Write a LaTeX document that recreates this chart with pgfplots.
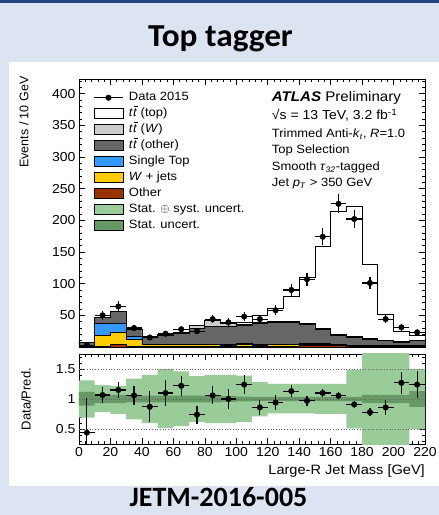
\documentclass[border=0pt]{standalone}
\usepackage{pgfplots}
\pgfplotsset{compat=1.18}
\usepackage{pgfplotstable}
\usepackage{fontspec}
\setmainfont{Liberation Sans}[FakeStretch=1.08]
\newfontfamily\plainsans{Liberation Sans}
\newfontfamily\slidefont{Carlito}
\newfontfamily\titlefont{Carlito}[FakeStretch=1.04]

\definecolor{slidebg}{RGB}{220,228,241}
\definecolor{slidebar}{RGB}{35,72,125}
\definecolor{ttWcol}{RGB}{204,204,204}
\definecolor{ttothercol}{RGB}{102,102,102}
\definecolor{stopcol}{RGB}{51,153,255}
\definecolor{wjetscol}{RGB}{255,204,0}
\definecolor{othercol}{RGB}{153,51,0}
\definecolor{systband}{RGB}{153,204,153}
\definecolor{statband}{RGB}{102,153,102}

\newcommand\ttbar{\textit{t}\makebox[0pt][l]{\hspace{0.1em}\rule[0.8em]{0.3em}{0.06em}}\textit{t}}

% predicted yields per 10 GeV bin (left edges; last row closes the final bin)
\pgfplotstableread{
x   other wjets stop ttother ttW  tttop
0   0.3   0.5   0.3  5.7     0    0
10  0.3   17.5  20   9.2     0    0
20  3.5   19    15.5 18      0    0
30  1     11    5    11      0    0
40  1     2.5   1    12.5    0    0
50  1     2.5   1    14.5    0.5  0
60  1     2.5   1    17.5    0.5  0
70  1     2.5   1    25.5    4    0
80  1     2.5   1    27.5    10   0
90  1     2     1.5  28.5    5    1
100 1     2.5   1.5  29.5    1.5  2.5
110 1     2     1    34      1.5  11
120 1.5   2     1    34.5    2    20.5
130 1.5   2     1    34      2.5  39
140 2.5   1.5   1    30      3    72
150 3     1     1    23      2    129
160 3     1     0.5  14      1.5  194
170 1.5   1     0.5  12      1    206
180 1     1     0.5  10      0.5  117
190 0.5   1     0.3  8.2     0.5  41
200 0.5   1     0.3  6.2     0.3  16.7
210 0.5   1     0.3  8.2     0.3  8.2
220 0.5   1     0.3  8.2     0.3  8.2
}\stacktab

% observed events (bin centres)
\pgfplotstableread{
x   n    e
5   3    1.7
15  50   7.1
25  64   8
35  30   5.5
45  15   3.9
55  21   4.6
65  28   5.3
75  25   5
85  44   6.6
95  39   6.2
105 48   6.9
115 44   6.6
125 58   7.6
135 90   9.5
145 107  10.3
155 174  13.2
165 226  15
175 202  14.2
185 101  10
195 44   6.6
205 31   5.6
215 23   4.8
}\datatab

% data / prediction
\pgfplotstableread{
x   r     rup   rdn
5   0.44  0.58  0.5
15  1.066 0.14  0.14
25  1.15  0.13  0.13
35  1.06  0.16  0.16
45  0.87  0.26  0.26
55  1.10  0.22  0.22
65  1.22  0.17  0.17
75  0.74  0.15  0.15
85  1.06  0.15  0.15
95  1.00  0.16  0.16
105 1.24  0.16  0.16
115 0.86  0.13  0.13
125 0.94  0.12  0.12
135 1.13  0.10  0.10
145 0.97  0.08  0.08
155 1.10  0.07  0.07
165 1.055 0.06  0.06
175 0.91  0.06  0.06
185 0.78  0.07  0.07
195 0.86  0.13  0.13
205 1.27  0.18  0.18
215 1.24  0.22  0.22
}\ratiotab

% uncertainty bands as closed outlines: upper edge left to right,
% then lower edge right to left (sys = stat+syst, stat = stat only)
\pgfplotstableread{
x   sys   stat
0   1.31  1.12
10  1.23  1.07
20  1.22  1.07
30  1.34  1.055
40  1.40  1.055
50  1.50  1.055
60  1.46  1.055
70  1.38  1.055
80  1.40  1.055
90  1.40  1.05
100 1.39  1.04
110 1.28  1.035
120 1.25  1.035
130 1.25  1.035
140 1.25  1.035
150 1.25  1.035
160 1.25  1.035
170 1.49  1.035
180 2.0   1.07
190 2.0   1.07
200 2.0   1.07
210 1.50  1.13
220 1.50  1.13
220 0.50  0.87
210 0.0   0.93
200 0.0   0.93
190 0.0   0.93
180 0.51  0.965
170 0.75  0.965
160 0.75  0.965
150 0.76  0.965
140 0.76  0.965
130 0.76  0.965
120 0.71  0.965
110 0.62  0.96
100 0.60  0.95
90  0.60  0.945
80  0.62  0.945
70  0.55  0.945
60  0.52  0.945
50  0.60  0.945
40  0.66  0.945
30  0.75  0.93
20  0.78  0.93
10  0.69  0.89
0   0.69  0.89
}\bandtab

\pgfplotsset{
  atlasaxis/.style={
    scale only axis, width=346pt, anchor=south west,
    xmin=0, xmax=220,
    xtick={0,20,...,220}, minor xtick={0,4,...,220},
    tick align=inside,
    major tick length=6pt, minor tick length=3pt,
    every tick/.style={black, line width=0.6pt},
    axis line style={line width=0.8pt},
    tick label style={font=\fontsize{13}{15}\selectfont},
    /pgf/number format/assume math mode=true,
  },
  histbox/.style={legend image code/.code={%
    \draw[##1, line width=0.8pt] (0pt,-5pt) rectangle (29pt,5pt);}},
  hist/.style={const plot mark left, draw=black, line width=0.8pt},
  datapts/.style={only marks, mark=*, mark size=2.8pt, black, forget plot,
    error bars/.cd, x dir=both, x fixed=5, y dir=both, y explicit,
    error mark=none, error bar style={line width=1.1pt, black}},
}

\begin{document}
\begin{tikzpicture}
\useasboundingbox (0pt,0pt) rectangle (439pt,515pt);
\clip (0pt,0pt) rectangle (439pt,515pt);
\fill[slidebg] (0pt,0pt) rectangle (439pt,515pt);
\fill[slidebar] (0pt,512pt) rectangle (439pt,515pt);
\fill[white] (9pt,29pt) rectangle (439pt,453pt);
\node[anchor=base, font=\titlefont\bfseries\fontsize{32}{36}\selectfont] at (220.5pt,468.3pt) {Top tagger};
\node[anchor=base, inner sep=0pt, font=\slidefont\bfseries\fontsize{28}{32}\selectfont] at (218.5pt,8.5pt) {JETM-2016-005};

% main panel
\begin{axis}[atlasaxis, at={(79pt,168pt)}, height=268pt,
  ymin=0, ymax=423,
  xticklabels={},
  ytick={50,100,...,400}, minor ytick={0,10,...,420},
  ylabel={\plainsans\fontsize{12.5}{14}\selectfont Events / 10 GeV},
  every axis y label/.style={at={(axis description cs:-0.159,1.022)}, rotate=90, anchor=east},
  legend cell align=left,
  legend style={at={(axis description cs:0.041,0.951)}, anchor=north west,
    draw=none, fill=none, inner sep=0pt, row sep=5.2pt,
    font=\fontsize{12}{14}\selectfont,
    nodes={inner xsep=3pt, inner ysep=0pt, text height=8.3pt, text depth=2.5pt},
    /tikz/every odd column/.append style={column sep=2.5pt}},
]
\addlegendimage{legend image code/.code={%
  \draw[line width=1.1pt] (0pt,0pt) -- (29pt,0pt);
  \fill (14.5pt,0pt) circle (2.8pt);}}
\addlegendentry{Data 2015}
\addlegendimage{histbox, fill=white}       \addlegendentry{\ttbar{} (top)}
\addlegendimage{histbox, fill=ttWcol}      \addlegendentry{\ttbar{} (\textit{W})}
\addlegendimage{histbox, fill=ttothercol}  \addlegendentry{\ttbar{} (other)}
\addlegendimage{histbox, fill=stopcol}     \addlegendentry{Single Top}
\addlegendimage{histbox, fill=wjetscol}    \addlegendentry{\textit{W} + jets}
\addlegendimage{histbox, fill=othercol}    \addlegendentry{Other}
\addlegendimage{histbox, fill=systband}    \addlegendentry{Stat. $\oplus$ syst. uncert.}
\addlegendimage{histbox, fill=statband}    \addlegendentry{Stat. uncert.}

\addplot[hist, fill=othercol, stack plots=y, forget plot] table[x=x, y=other]{\stacktab} \closedcycle;
\addplot[hist, fill=wjetscol, stack plots=y, forget plot] table[x=x, y=wjets]{\stacktab} \closedcycle;
\addplot[hist, fill=stopcol, stack plots=y, forget plot] table[x=x, y=stop]{\stacktab} \closedcycle;
\addplot[hist, fill=ttothercol, stack plots=y, forget plot] table[x=x, y=ttother]{\stacktab} \closedcycle;
\addplot[hist, fill=ttWcol, stack plots=y, forget plot] table[x=x, y=ttW]{\stacktab} \closedcycle;
\addplot[hist, fill=white, stack plots=y, forget plot] table[x=x, y=tttop]{\stacktab} \closedcycle;

\addplot[datapts] table[x=x, y=n, y error=e]{\datatab};
\end{axis}

% ratio panel
\begin{axis}[atlasaxis, at={(79pt,71pt)}, height=90pt,
  ymin=0.25, ymax=1.75,
  ytick={0.5,1,1.5}, yticklabels={0.5,1,1.5},
  minor ytick={0.3,0.4,...,1.71},
  xlabel={Large-R Jet Mass [GeV]},
  every axis x label/.style={at={(axis description cs:1,-0.30)}, anchor=east,
    inner sep=0pt, font=\fontsize{13.5}{15}\selectfont},
  ylabel={\plainsans\fontsize{13}{15}\selectfont Data/Pred.},
  every axis y label/.style={at={(axis description cs:-0.153,0.5)}, rotate=90, anchor=center},
]
\addplot[fill=systband, draw=none, const plot mark left, forget plot] table[x=x, y=sys]{\bandtab};
\addplot[fill=statband, draw=none, const plot mark left, forget plot] table[x=x, y=stat]{\bandtab};

\addplot[dotted, line width=0.7pt, black!60, forget plot] coordinates {(0,0.5) (220,0.5)};
\addplot[dotted, line width=0.7pt, black!60, forget plot] coordinates {(0,1) (220,1)};
\addplot[dotted, line width=0.7pt, black!60, forget plot] coordinates {(0,1.5) (220,1.5)};

\addplot[datapts] table[x=x, y=r, y error plus=rup, y error minus=rdn]{\ratiotab};
\end{axis}

% analysis labels
\node[anchor=base west, inner sep=0pt, font=\fontsize{14}{16}\selectfont] at (271.7pt,413pt)
  {\textbf{\textit{ATLAS}} Preliminary};
\node[anchor=base west, inner sep=0pt, font=\fontsize{13}{15}\selectfont] at (271.7pt,395pt)
  {√s = 13 TeV, 3.2 fb\textsuperscript{-1}};
\begin{scope}[every node/.style={anchor=base west, inner sep=0pt, font=\fontsize{12}{14}\selectfont}]
\node at (271.7pt,377.5pt) {Trimmed Anti-\textit{k}\textsubscript{\textit{t}}, \textit{R}=1.0};
\node at (271.7pt,361pt) {Top Selection};
\node at (271.7pt,344.5pt) {Smooth \textit{τ}\textsubscript{\textit{32}}-tagged};
\node at (271.7pt,328pt) {Jet \textit{p}\textsubscript{\textit{T}} > 350 GeV};
\end{scope}
\end{tikzpicture}
\end{document}
